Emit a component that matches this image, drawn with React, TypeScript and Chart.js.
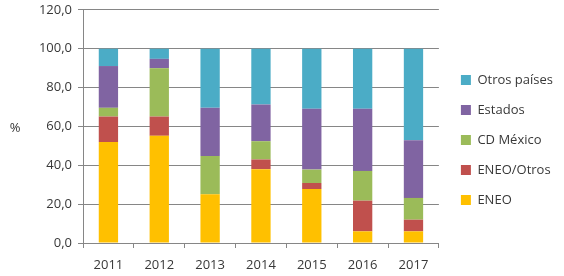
import React, { useEffect, useRef } from "react";
import { Chart, registerables } from "chart.js";

Chart.register(...registerables);

const years = ["2011", "2012", "2013", "2014", "2015", "2016", "2017"];
const eneo = [52.0, 55.2, 25.1, 38.0, 27.8, 6.0, 6.0];
const eneoOtros = [13.1, 9.9, 0.0, 5.0, 3.1, 15.8, 6.0];
const cdMexico = [4.5, 24.9, 19.7, 9.4, 6.9, 15.3, 11.2];
const estados = [21.5, 4.8, 24.8, 18.9, 31.3, 32.0, 29.7];
const otrosPaises = [8.9, 5.2, 30.4, 28.7, 30.9, 30.9, 47.1];

const FONT = "'Open Sans', sans-serif";
const TEXT = "#383838";
const GRID = "#868686";

const percentLabel = {
  id: "percentLabel",
  afterDraw(chart: any) {
    const { ctx, chartArea } = chart;
    ctx.save();
    ctx.font = `13px ${FONT}`;
    ctx.fillStyle = TEXT;
    ctx.textAlign = "center";
    ctx.textBaseline = "middle";
    ctx.fillText("%", 15, (chartArea.top + chartArea.bottom) / 2 + 1.5);
    ctx.restore();
  },
};

const legendOffset = {
  id: "legendOffset",
  afterLayout(chart: any) {
    const l = chart.legend;
    if (l) {
      l.left += 5;
      l.right += 5;
      l.top += 2;
      l.bottom += 2;
    }
  },
};

export default function App() {
  const ref = useRef<HTMLCanvasElement>(null);
  useEffect(() => {
    const chart = new Chart(ref.current!, {
      type: "bar",
      data: {
        labels: years,
        datasets: [
          { label: "ENEO", data: eneo, backgroundColor: "#FFC000" },
          { label: "ENEO/Otros", data: eneoOtros, backgroundColor: "#C0504D" },
          { label: "CD México", data: cdMexico, backgroundColor: "#9BBB59" },
          { label: "Estados", data: estados, backgroundColor: "#8064A2" },
          { label: "Otros países", data: otrosPaises, backgroundColor: "#4BACC6" },
        ],
      },
      options: {
        animation: false,
        responsive: false,
        layout: { padding: { top: 0, right: 6, bottom: 0, left: 0 } },
        datasets: { bar: { categoryPercentage: 1, barPercentage: 0.38 } } as any,
        plugins: {
          tooltip: { enabled: false },
          legend: {
            position: "right",
            reverse: true,
            labels: {
              boxWidth: 10,
              boxHeight: 10,
              padding: 17,
              color: TEXT,
              font: { family: FONT, size: 13 },
            },
          },
        },
        scales: {
          x: {
            stacked: true,
            grid: {
              drawOnChartArea: false,
              drawTicks: true,
              tickLength: 5,
              color: GRID,
              offset: true,
            },
            border: { display: true, color: GRID },
            ticks: { color: TEXT, font: { family: FONT, size: 13 }, padding: 9 },
            afterFit(scale: any) {
              scale.height = 33;
            },
          },
          y: {
            stacked: true,
            min: 0,
            max: 120,
            grid: { color: GRID, tickLength: 5 },
            border: { display: true, color: GRID },
            ticks: {
              stepSize: 20,
              color: TEXT,
              font: { family: FONT, size: 13, lineHeight: 0.6 },
              padding: 6,
              callback: (v: any) => Number(v).toFixed(1).replace(".", ","),
            },
            afterFit(scale: any) {
              scale.width = 83;
            },
          },
        },
      },
      plugins: [percentLabel, legendOffset],
    });
    return () => chart.destroy();
  }, []);
  return (
    <div style={{ position: "fixed", left: 0, top: 0, width: 564, height: 276, background: "#fff" }}>
      <canvas ref={ref} width={564} height={276} />
    </div>
  );
}
